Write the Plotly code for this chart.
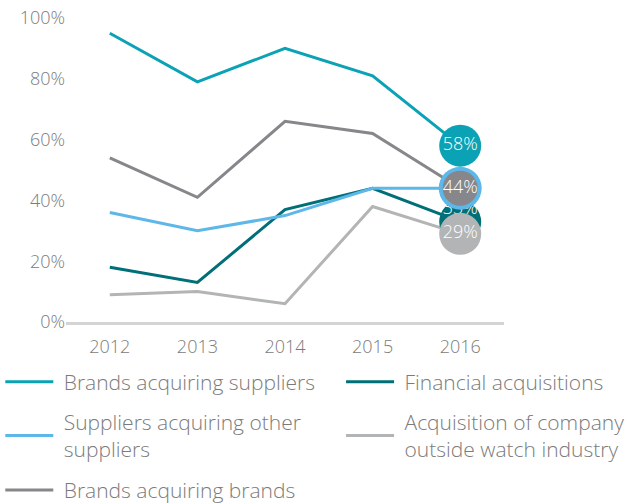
import plotly.graph_objects as go

years = ["2012", "2013", "2014", "2015", "2016"]
y_ticks = [0, 20, 40, 60, 80, 100]
y_tick_labels = ["0%", "20%", "40%", "60%", "80%", "100%"]

brands_acq_suppliers = [95, 79, 90, 81, 58]
suppliers_acq_suppliers = [36, 30, 35, 44, 44]
brands_acq_brands = [54, 41, 66, 62, 44]
financial_acq = [18, 13, 37, 44, 33]
outside_watch = [9, 10, 6, 38, 29]

NB = "\u00a0"
names = {
    "bas": NB + "Brands acquiring suppliers",
    "fin": NB + "Financial acquisitions",
    "sas": NB + "Suppliers acquiring other<br>" + NB + "suppliers",
    "out": NB + "Acquisition of company<br>" + NB + "outside watch industry",
    "bab": NB + "Brands acquiring brands",
}
colors = {
    "bas": "#0AA2B4",
    "fin": "#006F78",
    "sas": "#5DB7E8",
    "out": "#B2B4B5",
    "bab": "#86868B",
}
series = {
    "bas": brands_acq_suppliers,
    "fin": financial_acq,
    "sas": suppliers_acq_suppliers,
    "out": outside_watch,
    "bab": brands_acq_brands,
}
legend_of = {"bas": "legend", "sas": "legend", "bab": "legend3",
             "fin": "legend2", "out": "legend2"}
legend_rank = {"bas": 1, "sas": 2, "bab": 3, "fin": 1, "out": 2}

FONT = "Open Sans"
TXT = "#7b7b7b"

fig = go.Figure()

# lines
for key in ["out", "fin", "sas", "bab", "bas"]:
    fig.add_trace(go.Scatter(
        x=years, y=series[key], mode="lines", name=names[key],
        line=dict(color=colors[key], width=3),
        legend=legend_of[key], legendgroup=key, legendrank=legend_rank[key],
        hoverinfo="skip", cliponaxis=False,
    ))

# end-point bubbles (last value of each series)
def bubble(key, size, text_suffix=""):
    v = series[key][-1]
    fig.add_trace(go.Scatter(
        x=[years[-1]], y=[v], mode="markers+text",
        text=[f"{v}%" + text_suffix],
        textposition="middle center",
        textfont=dict(family=FONT, size=18, color="white", weight=300),
        marker=dict(size=size, color=colors[key], line=dict(width=0)),
        showlegend=False, cliponaxis=False, hoverinfo="skip",
    ))

bubble("fin", 42, text_suffix="<br> ")
bubble("out", 42)
fig.add_trace(go.Scatter(
    x=[years[-1]], y=[series["sas"][-1]], mode="markers",
    marker=dict(size=43, color=colors["sas"]),
    showlegend=False, cliponaxis=False, hoverinfo="skip"))
bubble("bab", 35)
bubble("bas", 42)

legend_font = dict(family=FONT, size=21, color=TXT, weight=300)
legend_common = dict(orientation="v", xanchor="left", yanchor="top",
                     font=legend_font, tracegroupgap=10,
                     bgcolor="rgba(0,0,0,0)", itemwidth=48,
                     traceorder="grouped")

fig.update_layout(
    width=635, height=504,
    margin=dict(l=66, r=131, t=18, b=182, autoexpand=False),
    paper_bgcolor="white", plot_bgcolor="white",
    font=dict(family=FONT, color=TXT, size=18, weight=300),
    showlegend=True,
    xaxis=dict(
        type="category", categoryorder="array", categoryarray=years,
        range=[-0.5, 4.5], showgrid=False, zeroline=False,
        showline=True, linecolor="#D4D4D4", linewidth=3,
        ticks="", ticklabelstandoff=6,
        tickfont=dict(family=FONT, size=18, color=TXT, weight=300),
    ),
    yaxis=dict(
        range=[0, 100], tickmode="array", tickvals=y_ticks, ticktext=y_tick_labels,
        showgrid=False, zeroline=False, showline=False, ticks="",
        tickfont=dict(family=FONT, size=18, color=TXT, weight=300),
    ),
    legend=dict(x=-0.15, y=-0.130, **legend_common),
    legend2=dict(x=0.628, y=-0.130, **legend_common),
    legend3=dict(x=-0.15, y=-0.486, **legend_common),
)

fig.write_html("out.html", config={"displayModeBar": False},
               post_script="document.body.style.margin='0';")
